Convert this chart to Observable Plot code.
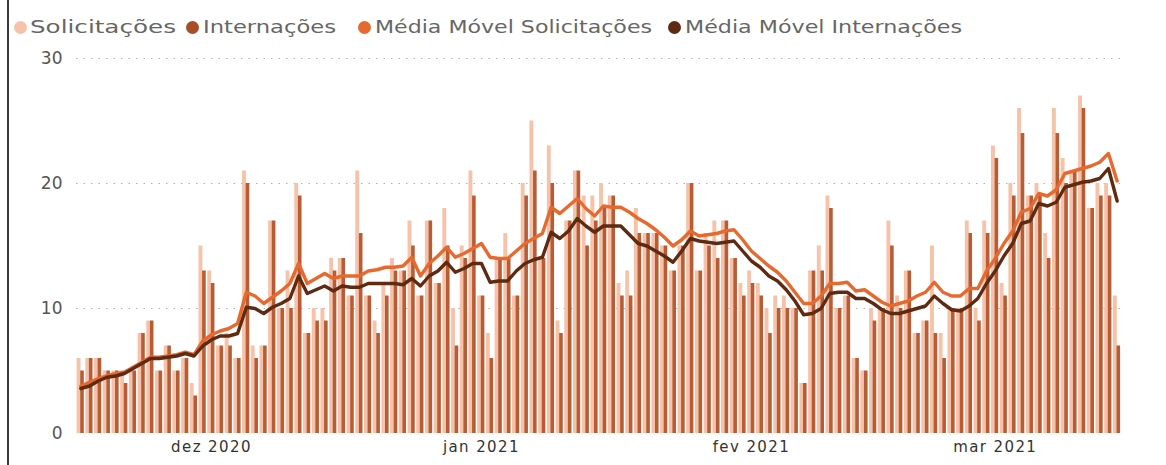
<!DOCTYPE html>
<html><head><meta charset="utf-8">
<script src="https://cdn.jsdelivr.net/npm/d3@7"></script>
<script src="https://cdn.jsdelivr.net/npm/@observablehq/plot@0.6"></script>
<style>
body{margin:0;background:#fff;width:1166px;height:465px;overflow:hidden;font-family:"DejaVu Sans",sans-serif;position:relative}
#frame{position:absolute;left:7px;top:0;width:2px;height:465px;background:#3a3a3a}
#legend{position:absolute;left:0;top:0;width:1166px;height:44px;font-size:18px;color:#666;white-space:nowrap}
.dot{position:absolute;width:13px;height:13px;border-radius:50%;top:21px}
.lab{position:absolute;top:15px;transform-origin:0 50%;line-height:24px}
#chart{position:absolute;left:0;top:40px}
</style></head><body>
<div id="frame"></div>
<div id="legend"></div>
<div id="chart"></div>
<script>
const startDay = "2020-11-16";
const solicitacoes = [6,6,6,5,5,5,5,8,9,5,7,5,6,4,15,13,7,8,6,21,7,7,17,10,13,20,8,10,10,14,14,11,21,11,9,12,14,13,17,11,17,12,18,10,15,21,11,8,14,16,11,20,25,14,23,9,17,21,19,19,20,19,12,13,18,16,16,15,13,15,20,13,16,17,17,14,12,13,12,10,11,11,10,4,13,15,19,10,11,6,5,10,10,17,11,13,8,9,15,8,10,10,17,10,17,23,12,20,26,19,20,16,26,22,21,27,18,20,20,11];
const internacoes = [5,6,6,5,5,4,5,8,9,5,7,5,6,3,13,12,7,7,6,20,6,7,17,10,10,19,8,9,9,13,14,11,16,11,8,11,13,13,15,11,17,12,15,7,14,19,11,6,14,14,11,19,21,14,20,8,17,21,15,17,18,19,11,11,16,16,16,15,13,15,20,13,15,14,17,14,11,12,11,8,10,10,10,4,13,13,18,10,11,6,5,9,10,15,10,13,8,9,8,6,10,10,16,9,16,22,11,19,24,19,19,14,24,20,21,26,18,19,19,7];
const mediaMovelSolicitacoes = [3.8,4.1,4.4,4.6,4.8,4.9,5.3,5.7,6.1,6.1,6.2,6.3,6.5,6.3,7.4,7.9,8.2,8.4,8.8,11.3,11.0,10.4,10.9,11.4,12.0,13.6,12.0,12.4,12.8,12.4,12.6,12.6,12.6,13.0,13.1,13.3,13.3,13.4,14.1,12.6,13.6,14.2,14.9,14.1,14.4,14.8,15.2,14.1,14.0,14.0,14.6,15.2,15.6,16.0,18.1,17.6,18.2,18.8,18.0,17.4,18.2,18.1,18.1,17.7,17.2,16.8,16.3,15.7,15.0,15.5,16.2,15.8,15.9,16.0,16.2,16.3,15.5,14.6,14.0,13.4,12.9,12.2,11.3,10.4,10.4,11.0,12.0,12.0,12.1,11.4,11.5,11.0,10.5,10.2,10.4,10.6,11.0,11.3,12.1,11.3,11.0,11.0,11.6,11.6,13.0,14.0,15.2,16.2,17.7,18.0,19.2,19.0,19.5,20.8,21.0,21.2,21.4,21.7,22.4,20.2];
const mediaMovelInternacoes = [3.6,3.8,4.2,4.5,4.6,4.8,5.2,5.6,6.0,6.0,6.1,6.2,6.4,6.2,7.0,7.5,7.8,7.8,8.0,10.1,10.0,9.6,10.1,10.4,10.8,12.6,11.2,11.5,11.8,11.4,11.8,11.7,11.7,12.0,12.0,12.0,12.0,11.9,12.4,11.8,12.6,13.0,13.7,12.9,13.2,13.6,13.6,12.1,12.2,12.2,13.0,13.6,13.9,14.1,16.1,15.6,16.2,17.2,16.6,16.1,16.6,16.6,16.6,15.9,15.2,15.0,14.6,14.2,13.7,14.6,15.6,15.4,15.3,15.2,15.3,15.4,14.6,13.8,13.3,12.6,12.2,11.5,10.6,9.5,9.6,10.0,11.2,11.3,11.3,10.8,10.8,10.4,9.9,9.6,9.6,9.8,10.0,10.2,11.0,10.4,9.9,9.8,10.2,10.8,12.0,13.0,14.2,15.2,16.8,17.0,18.4,18.2,18.5,19.7,19.9,20.1,20.2,20.4,21.2,18.6];
const tickDates = ["2020-12-01","2021-01-01","2021-02-01","2021-03-01"];
const tickLabels = ["dez 2020","jan 2021","fev 2021","mar 2021"];
const seriesNames = ["Solicitações","Internações","Média Móvel Solicitações","Média Móvel Internações"];
const seriesColors = ["#F6C3AA","#A84E26","#E8692E","#5E2A12"];

const t0 = new Date(startDay + "T00:00Z");
const rows = solicitacoes.map((s, i) => {
  const date = d3.utcDay.offset(t0, i);
  return {date, mid: d3.utcHour.offset(date, 12), sol: s, int: internacoes[i],
          maS: mediaMovelSolicitacoes[i], maI: mediaMovelInternacoes[i]};
});
const end = d3.utcDay.offset(t0, solicitacoes.length);
const ticks = tickDates.map(d => new Date(d + "T12:00Z"));
const labelMap = new Map(ticks.map((d, i) => [+d, tickLabels[i]]));

// legend layout (pixel positions of the reference legend)
const legendDotX = [14, 186, 358, 668];
const legendTextX = [30, 203, 375, 685];
const legendTextW = [146, 133, 277, 277];
const legend = document.getElementById("legend");
seriesNames.forEach((n, i) => {
  const dot = document.createElement("span"); dot.className = "dot";
  dot.style.background = seriesColors[i]; dot.style.left = legendDotX[i] + "px";
  const tx = document.createElement("span"); tx.className = "lab"; tx.textContent = n;
  tx.style.left = legendTextX[i] + "px";
  legend.append(dot, tx);
  const w = tx.getBoundingClientRect().width;
  tx.style.transform = `scaleX(${legendTextW[i] / w})`;
});

const chart = Plot.plot({
  width: 1166, height: 425,
  marginTop: 18, marginBottom: 32, marginLeft: 76, marginRight: 45,
  style: {fontFamily: "DejaVu Sans, sans-serif", background: "transparent"},
  x: {type: "utc", domain: [t0, end]},
  y: {domain: [0, 30]},
  marks: [
    Plot.gridY([10, 20, 30], {stroke: "#b0b0b0", strokeOpacity: 1, strokeDasharray: "1.5,6"}),
    Plot.rectY(rows, {x: "date", y: "sol", interval: "day", fill: seriesColors[0], insetLeft: 0.6, insetRight: 4.2}),
    Plot.rectY(rows, {x: "date", y: "int", interval: "day", fill: "#B85C35", insetLeft: 4.2, insetRight: 0.9}),
    Plot.line(rows, {x: "mid", y: "maS", stroke: seriesColors[2], strokeWidth: 3.4, curve: "linear"}),
    Plot.line(rows, {x: "mid", y: "maI", stroke: seriesColors[3], strokeWidth: 3.4, curve: "linear"}),
    Plot.axisY({ticks: [0, 10, 20, 30], tickSize: 0, tickPadding: 14, fontSize: 17, fill: "#555", label: null}),
    Plot.axisX({ticks: ticks, tickFormat: d => labelMap.get(+d), tickSize: 0, tickPadding: 8, fontSize: 15, fill: "#333", label: null})
  ]
});
chart.querySelectorAll("g[aria-label='x-axis tick label'] text").forEach(t => t.setAttribute("letter-spacing", "1.4"));
document.getElementById("chart").append(chart);
</script>
</body></html>
